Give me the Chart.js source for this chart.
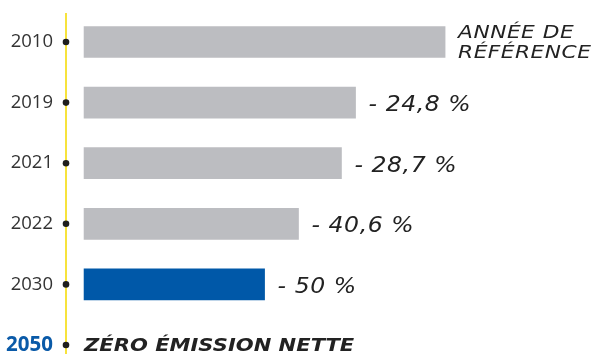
<!DOCTYPE html>
<html>
<head>
<meta charset="utf-8">
<script src="https://cdn.jsdelivr.net/npm/chart.js@4/dist/chart.umd.min.js"></script>
<style>
  html, body { margin: 0; padding: 0; background: #ffffff; }
  #wrap { width: 597px; height: 354px; }
</style>
</head>
<body>
<div id="wrap"><canvas id="c" width="597" height="354"></canvas></div>
<script>
// Emission trajectory, base 2010 = 100
const years = ['2010', '2019', '2021', '2022', '2030', '2050'];
const reductions = [0, 24.8, 28.7, 40.6, 50, 100];   // % below the 2010 level
const levels = reductions.map(r => 100 - r);
const barLabels = [
  ['ANNÉE DE', 'RÉFÉRENCE'],
  ['- 24,8 %'],
  ['- 28,7 %'],
  ['- 40,6 %'],
  ['- 50 %'],
  ['ZÉRO ÉMISSION NETTE']
];
const barColors = ['#bcbdc1', '#bcbdc1', '#bcbdc1', '#bcbdc1', '#0058a8', 'rgba(0,0,0,0)'];

const GOLD = '#f7e33c';
const BLUE = '#0a5aa8';

// Draws a line of text stretched horizontally (extended italic look)
function wideText(ctx, text, x, y, stretch) {
  ctx.save();
  ctx.translate(x, y);
  ctx.scale(stretch, 1);
  ctx.fillText(text, 0, 0);
  ctx.restore();
}

// Timeline: yellow rule with a dot per year, and the text next to each bar
const timeline = {
  id: 'timeline',
  beforeDatasetsDraw(chart) {
    const { ctx, scales: { y }, chartArea } = chart;
    const x0 = chartArea.left;
    ctx.save();
    ctx.strokeStyle = GOLD;
    ctx.lineWidth = 2;
    ctx.beginPath();
    ctx.moveTo(x0, 13);
    ctx.lineTo(x0, chart.height);
    ctx.stroke();
    ctx.fillStyle = '#1e1e1e';
    years.forEach((_, i) => {
      ctx.beginPath();
      ctx.arc(x0, y.getPixelForValue(i), 3.3, 0, Math.PI * 2);
      ctx.fill();
    });
    ctx.restore();
  },
  afterDatasetsDraw(chart) {
    const { ctx, scales: { x, y } } = chart;
    ctx.save();
    ctx.fillStyle = '#222222';
    ctx.textBaseline = 'middle';
    ctx.textAlign = 'left';
    barLabels.forEach((lines, i) => {
      const yc = y.getPixelForValue(i);
      const last = i === barLabels.length - 1;
      let xs, stretch, dy;
      if (last) {
        ctx.font = 'italic bold 18px "DejaVu Sans"';
        ctx.letterSpacing = '0px';
        xs = x.getPixelForValue(levels[i]);
        stretch = 1.17;
        dy = 1;
      } else if (lines.length > 1) {
        ctx.font = 'oblique 17.5px "DejaVu Sans"';
        ctx.letterSpacing = '0.4px';
        xs = x.getPixelForValue(levels[i]) + 13;
        stretch = 1.24;
        dy = 1;
      } else {
        ctx.font = 'oblique 21px "DejaVu Sans"';
        ctx.letterSpacing = '0.5px';
        xs = x.getPixelForValue(levels[i]) + 13;
        stretch = 1.12;
        dy = 3;
      }
      const lh = 20;
      lines.forEach((t, k) => {
        wideText(ctx, t, xs, yc + dy + (k - (lines.length - 1) / 2) * lh, stretch);
      });
    });
    ctx.restore();
  }
};

new Chart(document.getElementById('c'), {
  type: 'bar',
  data: {
    labels: years,
    datasets: [{
      data: levels,
      backgroundColor: barColors,
      barThickness: 31,
      borderWidth: 0,
      clip: false
    }]
  },
  options: {
    indexAxis: 'y',
    responsive: false,
    animation: false,
    events: [],
    layout: { padding: { top: 42, bottom: 9, left: 0, right: 7.5 } },
    plugins: { legend: { display: false }, tooltip: { enabled: false } },
    scales: {
      x: {
        display: false,
        min: -5,
        max: 140
      },
      y: {
        offset: false,
        grid: { display: false, drawTicks: false },
        border: { display: false },
        afterFit(scale) {
          scale.width = 66;
          scale.paddingTop = 0;
          scale.paddingBottom = 0;
        },
        ticks: {
          padding: 13,
          color: ctx => ctx.index === years.length - 1 ? BLUE : '#333333',
          font: ctx => ctx.index === years.length - 1
            ? { family: '"Open Sans"', size: 20.5, weight: 'bold' }
            : { family: '"Open Sans"', size: 18.5 }
        }
      }
    }
  },
  plugins: [timeline]
});
</script>
</body>
</html>
